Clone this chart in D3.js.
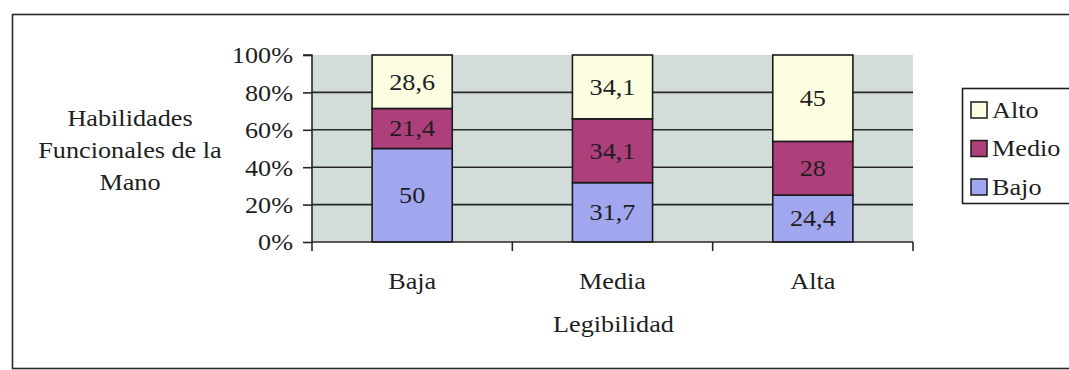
<!DOCTYPE html>
<html>
<head>
<meta charset="utf-8">
<script src="https://cdn.jsdelivr.net/npm/d3@7"></script>
<style>
  html, body { margin: 0; padding: 0; background: #ffffff; }
  svg { display: block; }
</style>
</head>
<body>
<svg id="chart" width="1069" height="370"></svg>
<script>
// Legibility categories and hand-skill levels (percent of each group)
const categories = ["Baja", "Media", "Alta"];
const seriesNames = ["Bajo", "Medio", "Alto"];
const bajo  = [50, 31.7, 24.4];
const medio = [21.4, 34.1, 28];
const alto  = [28.6, 34.1, 45];
const yTicks = [0, 0.2, 0.4, 0.6, 0.8, 1];
const yTitleLines = ["Habilidades", "Funcionales de la", "Mano"];
const xTitle = "Legibilidad";
const legendOrder = ["Alto", "Medio", "Bajo"];

const colors = { Bajo: "#a1a7ef", Medio: "#ad3f7a", Alto: "#fdfde1" };
const FONT = 23;      // glyph height
const SX = 1.14;      // the chart's lettering is slightly wide
const SERIF = "'Liberation Serif', 'Times New Roman', serif";
const INK = "#1e1e1e";

const svg = d3.select("#chart");

// Place a text element at (x, y) with horizontally widened glyphs
function label(parent, x, y, str, anchor) {
  return parent.append("text")
    .attr("transform", `translate(${x},${y}) scale(${SX},1)`)
    .attr("text-anchor", anchor || "middle")
    .attr("fill", INK)
    .style("font-family", SERIF)
    .style("font-size", FONT + "px")
    .text(str);
}

// Outer chart frame
svg.append("rect")
  .attr("x", 12.5).attr("y", 14.5)
  .attr("width", 1080).attr("height", 354)
  .attr("fill", "none").attr("stroke", "#2a2a2a").attr("stroke-width", 1.6);

const plot = { left: 312, right: 913, top: 55, bottom: 242 };

const x = d3.scaleBand().domain(categories)
  .range([plot.left, plot.right]).paddingInner(0).paddingOuter(0);
const y = d3.scaleLinear().domain([0, 1]).range([plot.bottom, plot.top]);

// Plot background
svg.append("rect")
  .attr("x", plot.left).attr("y", plot.top)
  .attr("width", plot.right - plot.left).attr("height", plot.bottom - plot.top)
  .attr("fill", "#d2ddd9");

// Horizontal gridlines (inner ticks only)
svg.append("g").selectAll("line")
  .data(yTicks.filter(t => t > 0 && t < 1))
  .join("line")
  .attr("x1", plot.left).attr("x2", plot.right)
  .attr("y1", d => y(d)).attr("y2", d => y(d))
  .attr("stroke", "#262626").attr("stroke-width", 1.6);

// 100% stacked bars
const rows = categories.map((c, i) => ({ cat: c, Bajo: bajo[i], Medio: medio[i], Alto: alto[i] }));
const stacked = d3.stack().keys(seriesNames).offset(d3.stackOffsetExpand)(rows);

const barW = x.bandwidth() * 0.4;
const barOff = (x.bandwidth() - barW) / 2;

const layers = svg.append("g").selectAll("g")
  .data(stacked).join("g")
  .attr("fill", d => colors[d.key]);

layers.selectAll("rect")
  .data(d => d.map(p => ({ key: d.key, p })))
  .join("rect")
  .attr("x", d => x(d.p.data.cat) + barOff)
  .attr("width", barW)
  .attr("y", d => y(d.p[1]))
  .attr("height", d => y(d.p[0]) - y(d.p[1]))
  .attr("stroke", "#1a1a1a").attr("stroke-width", 1.6);

// Value labels inside each segment
const fmt = v => String(v).replace(".", ",");
const labelLayer = svg.append("g");
stacked.forEach(layer => {
  layer.forEach(p => {
    const cx = x(p.data.cat) + x.bandwidth() / 2;
    const cy = (y(p[0]) + y(p[1])) / 2 + FONT * 0.34;
    label(labelLayer, cx, cy, fmt(p.data[layer.key]));
  });
});

// Y axis
const yAxis = d3.axisLeft(y).tickValues(yTicks).tickFormat(d3.format(".0%"))
  .tickSize(9).tickPadding(10);
const gy = svg.append("g").attr("transform", `translate(${plot.left},0)`).call(yAxis);
gy.select(".domain").attr("stroke", "#262626").attr("stroke-width", 1.6)
  .attr("d", `M-9,${plot.top}H0V${plot.bottom}`);
gy.selectAll(".tick line").attr("stroke", "#262626").attr("stroke-width", 1.6);
gy.selectAll(".tick text")
  .attr("x", null).attr("dy", null)
  .attr("transform", `translate(-19,${FONT * 0.34}) scale(${SX},1)`)
  .attr("fill", INK)
  .style("font-family", SERIF)
  .style("font-size", FONT + "px");

// X axis: baseline, boundary ticks, category labels
const gx = svg.append("g");
gx.append("line")
  .attr("x1", plot.left).attr("x2", plot.right)
  .attr("y1", plot.bottom).attr("y2", plot.bottom)
  .attr("stroke", "#262626").attr("stroke-width", 1.6);
const bounds = categories.map(c => x(c)).concat([x(categories[categories.length - 1]) + x.bandwidth()]);
gx.selectAll("line.tk").data(bounds).join("line").attr("class", "tk")
  .attr("x1", d => d).attr("x2", d => d)
  .attr("y1", plot.bottom).attr("y2", plot.bottom + 9)
  .attr("stroke", "#262626").attr("stroke-width", 1.6);
categories.forEach(c => label(gx, x(c) + x.bandwidth() / 2, 289, c));

// Axis titles
label(svg, (plot.left + plot.right) / 2 + 1, 332, xTitle);
yTitleLines.forEach((t, i) => label(svg, 130, 126 + i * 32, t));

// Legend
const lg = svg.append("g");
lg.append("rect")
  .attr("x", 962.5).attr("y", 88.5).attr("width", 120).attr("height", 115)
  .attr("fill", "#ffffff").attr("stroke", "#1e1e1e").attr("stroke-width", 1.6);
legendOrder.forEach((k, i) => {
  const cy = 110 + i * 38.5;
  lg.append("rect")
    .attr("x", 971).attr("y", cy - 8).attr("width", 16).attr("height", 16)
    .attr("fill", colors[k]).attr("stroke", "#1a1a1a").attr("stroke-width", 1.5);
  label(lg, 992, cy + FONT * 0.34, k, "start");
});
</script>
</body>
</html>
